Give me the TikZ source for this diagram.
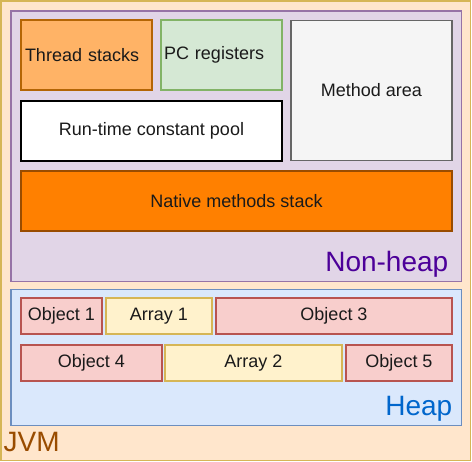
\documentclass[tikz,border=0pt]{standalone}
\usepackage{fontspec}
\setmainfont{Liberation Sans}
\definecolor{jvmfill}{HTML}{FFE6CC}
\definecolor{jvmdraw}{HTML}{D6B656}
\definecolor{nhfill}{HTML}{E1D5E7}
\definecolor{nhdraw}{HTML}{9673A6}
\definecolor{hfill}{HTML}{DAE8FC}
\definecolor{hdraw}{HTML}{6C8EBF}
\definecolor{tsfill}{HTML}{FFB366}
\definecolor{tsdraw}{HTML}{B46504}
\definecolor{pcfill}{HTML}{D5E8D4}
\definecolor{pcdraw}{HTML}{82B366}
\definecolor{mafill}{HTML}{F5F5F5}
\definecolor{madraw}{HTML}{666666}
\definecolor{nmfill}{HTML}{FF8000}
\definecolor{nmdraw}{HTML}{994C00}
\definecolor{objfill}{HTML}{F8CECC}
\definecolor{objdraw}{HTML}{B85450}
\definecolor{arrfill}{HTML}{FFF2CC}
\definecolor{arrdraw}{HTML}{D6B656}
\definecolor{nhtext}{HTML}{4C0099}
\definecolor{htext}{HTML}{0066CC}
\definecolor{jvmtext}{HTML}{994C00}
\definecolor{txt}{HTML}{1A1A1A}
\tikzset{
  region/.style={draw, line width=1.5pt, inner sep=0pt},
  box/.style={draw, line width=1.5pt, inner sep=0pt, text=txt,
    font=\fontsize{18}{21}\selectfont},
  big/.style={inner sep=0pt, font=\fontsize{28}{31}\selectfont},
}
\begin{document}
\begin{tikzpicture}[x=1pt,y=-1pt]
\useasboundingbox (0,0) rectangle (472,462);
% regions
\draw[region, fill=jvmfill, draw=jvmdraw] (1,1) rectangle (470.5,460.5);
\draw[region, fill=nhfill, draw=nhdraw] (11,11) rectangle (461.5,281.5);
\draw[region, fill=hfill, draw=hdraw] (11,289.5) rectangle (461.5,425.5);
% non-heap boxes
\node[box, fill=tsfill, draw=tsdraw, minimum width=131pt, minimum height=70pt,
  text width=123pt, align=left, inner xsep=4pt] (ts) at (86.5,55) {Thread stacks};
\node[box, fill=pcfill, draw=pcdraw, minimum width=121pt, minimum height=70pt,
  text width=115pt, align=left, inner xsep=3pt] (pc) at (221.5,55) {PC registers};
\node[box, fill=mafill, draw=madraw, minimum width=161pt, minimum height=140pt] (ma) at (371.5,90.5) {Method area};
\node[box, fill=white, draw=black, minimum width=261pt, minimum height=60pt] (rt) at (151.5,131) {Run-time constant pool};
\node[box, fill=nmfill, draw=nmdraw, minimum width=431pt, minimum height=60pt] (nm) at (236.5,201) {Native methods stack};
% heap boxes
\node[box, fill=objfill, draw=objdraw, minimum width=81pt, minimum height=36pt] (o1) at (61.5,316) {Object 1};
\node[box, fill=arrfill, draw=arrdraw, minimum width=106pt, minimum height=36pt] (a1) at (159,316) {Array 1};
\node[box, fill=objfill, draw=objdraw, minimum width=236pt, minimum height=36pt] (o3) at (334,316) {Object 3};
\node[box, fill=objfill, draw=objdraw, minimum width=141pt, minimum height=36pt] (o4) at (91.5,363) {Object 4};
\node[box, fill=arrfill, draw=arrdraw, minimum width=177pt, minimum height=36pt] (a2) at (253.5,363) {Array 2};
\node[box, fill=objfill, draw=objdraw, minimum width=106pt, minimum height=36pt] (o5) at (399,363) {Object 5};
% labels
\node[big, text=nhtext, anchor=base east] (nhl) at (448.5,272) {Non-heap};
\node[big, text=htext, anchor=base east] (hl) at (452.5,416) {Heap};
\node[big, text=jvmtext, anchor=base west] (jl) at (3.5,452) {JVM};
\end{tikzpicture}
\end{document}
